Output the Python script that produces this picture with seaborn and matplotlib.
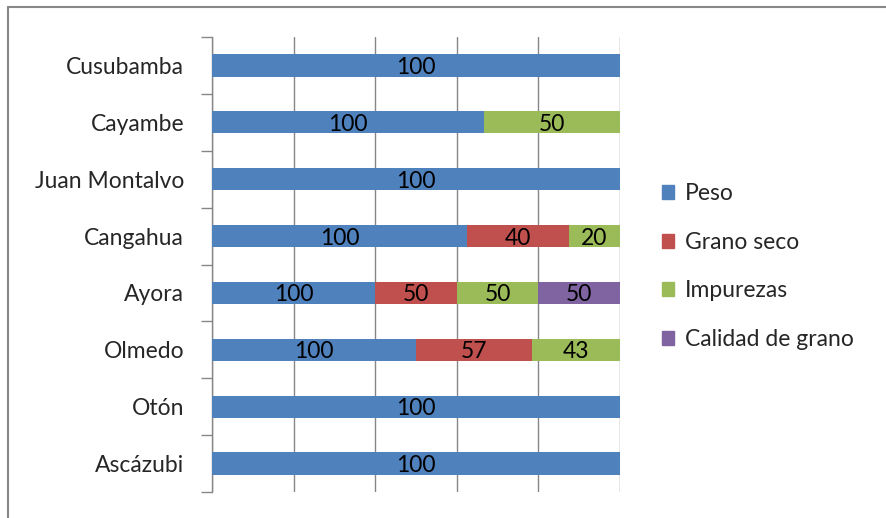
import matplotlib
matplotlib.use("Agg")
import matplotlib.pyplot as plt
from matplotlib.lines import Line2D
import numpy as np
import pandas as pd
import seaborn as sns

# Parishes, top to bottom
parroquias = ["Cusubamba", "Cayambe", "Juan Montalvo", "Cangahua",
              "Ayora", "Olmedo", "Otón", "Ascázubi"]

# Scores per criterion (0 = not reported)
peso = [100, 100, 100, 100, 100, 100, 100, 100]
grano_seco = [0, 0, 0, 40, 50, 57, 0, 0]
impurezas = [0, 50, 0, 20, 50, 43, 0, 0]
calidad_grano = [0, 0, 0, 0, 50, 0, 0, 0]

series = ["Peso", "Grano seco", "Impurezas", "Calidad de grano"]
colores = ["#4F81BD", "#C0504D", "#9BBB59", "#8064A2"]

df = pd.DataFrame({"Parroquia": parroquias, "Peso": peso, "Grano seco": grano_seco,
                   "Impurezas": impurezas, "Calidad de grano": calidad_grano})

# Convert to 100% stacked shares
vals = df[series]
pct = vals.div(vals.sum(axis=1), axis=0) * 100
cum = pct.cumsum(axis=1)

sns.set_style("white")
plt.rcParams["font.family"] = ["Lato", "DejaVu Sans"]
FS = 16.5
grid_c = "#868686"

fig = plt.figure(figsize=(8.86, 5.18), dpi=100)
ax = fig.add_axes([212 / 886, 1 - 492 / 518, 408 / 886, 455 / 518])

# Draw cumulative bars from the outermost series inward so each segment shows
for s, c in reversed(list(zip(series, colores))):
    d = pd.DataFrame({"Parroquia": parroquias, "x": cum[s].values})
    sns.barplot(data=d, x="x", y="Parroquia", order=parroquias, color=c,
                width=0.39, orient="h", ax=ax, saturation=1, linewidth=0,
                zorder=3)

# Value labels centred on each segment
for i, p in enumerate(parroquias):
    for s in series:
        v = df.loc[i, s]
        if v > 0:
            xc = cum.loc[i, s] - pct.loc[i, s] / 2
            ax.text(xc, i, f"{v:g}", ha="center", va="center_baseline",
                    fontsize=FS, color="black", zorder=5)

ax.set_xlim(0, 100)
ax.set_ylim(len(parroquias) - 0.5, -0.5)
ax.set_xlabel("")
ax.set_ylabel("")
ax.set_xticks(np.arange(0, 101, 20))
ax.set_xticklabels([])
ax.tick_params(axis="x", length=0)
ax.xaxis.grid(True, color=grid_c, linewidth=1.0, zorder=0)
ax.yaxis.grid(False)
ax.set_axisbelow(True)

ax.tick_params(axis="y", which="major", length=0, pad=20, labelsize=FS)
ax.set_yticks(np.arange(-0.5, len(parroquias)), minor=True)
ax.tick_params(axis="y", which="minor", left=True, length=8, width=1.0,
               color=grid_c, direction="out")

for side in ["top", "right", "bottom"]:
    ax.spines[side].set_visible(False)
ax.spines["left"].set_color(grid_c)
ax.spines["left"].set_linewidth(1.0)

# Legend
handles = [plt.Rectangle((0, 0), 1, 1, color=c) for c in colores]
fig.legend(handles, series, loc="center left",
           bbox_to_anchor=(641 / 886, 1 - 266.5 / 518), frameon=False,
           fontsize=FS, handlelength=0.55, handleheight=0.55,
           handletextpad=0.45, labelspacing=1.2)

# Chart area border (top and left edges)
fig.add_artist(Line2D([8 / 886, 1], [1 - 7 / 518] * 2, color="#878787", lw=1.5))
fig.add_artist(Line2D([8 / 886] * 2, [0, 1 - 7 / 518], color="#878787", lw=1.5))

fig.savefig("out.png", dpi=100)
